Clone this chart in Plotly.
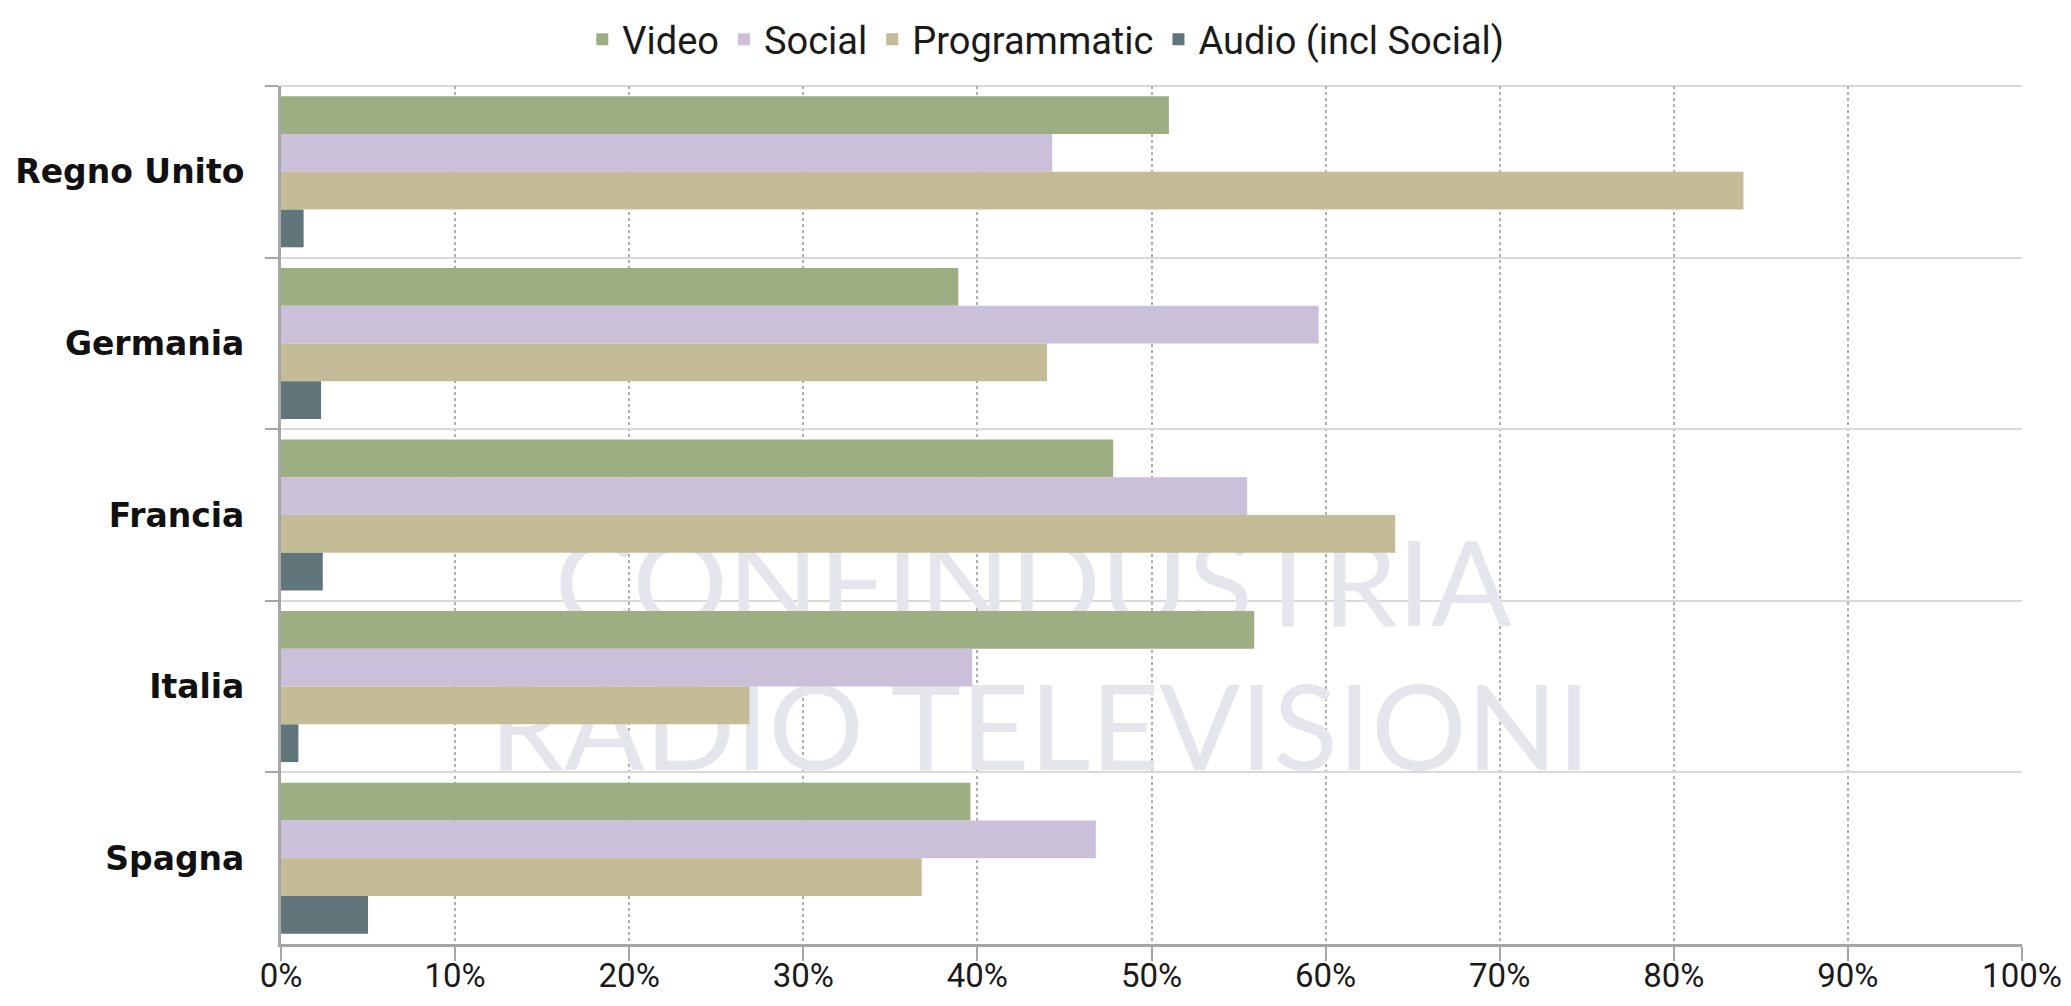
import plotly.graph_objects as go

countries = ["Regno Unito", "Germania", "Francia", "Italia", "Spagna"]
series_names = ["Video", "Social", "Programmatic", "Audio (incl Social)"]
video = [0.510, 0.389, 0.478, 0.559, 0.396]
social = [0.443, 0.596, 0.555, 0.397, 0.468]
programmatic = [0.840, 0.440, 0.640, 0.269, 0.368]
audio = [0.013, 0.023, 0.024, 0.010, 0.050]
x_ticks = [0, 0.1, 0.2, 0.3, 0.4, 0.5, 0.6, 0.7, 0.8, 0.9, 1.0]
watermark_lines = ["CONFINDUSTRIA", "RADIO TELEVISIONI"]

colors = ["#9DAF82", "#CBC0DA", "#C4BC97", "#61767B"]
values = [video, social, programmatic, audio]

fig = go.Figure()

# faint watermark on the base axes (drawn beneath the overlaid bar axes)
fig.add_trace(go.Scatter(
    x=[0.432, 0.436], y=[0.405, 0.238], mode="text",
    text=watermark_lines, textposition="middle center",
    textfont=dict(family="Lato, Roboto, sans-serif", size=119, color="#E4E6EC", weight=400),
    showlegend=False, hoverinfo="skip", xaxis="x", yaxis="y",
))

for name, vals, col in zip(series_names, values, colors):
    fig.add_trace(go.Bar(
        y=countries, x=vals, name=name, orientation="h",
        marker=dict(color=col, line=dict(width=0)),
        xaxis="x2", yaxis="y2",
    ))

axis_grey = "#A6A6A6"
fig.update_layout(
    width=2055, height=990,
    margin=dict(l=273, r=41, t=78, b=54, autoexpand=False),
    paper_bgcolor="white", plot_bgcolor="white",
    barmode="group", bargap=0.12, bargroupgap=0,
    showlegend=True,
    legend=dict(
        orientation="h", xref="container", yref="container",
        x=0.505, xanchor="center", y=1.0, yanchor="top",
        font=dict(family="Roboto, sans-serif", size=38, color="#1a1a1a"),
        traceorder="normal", itemsizing="constant",
    ),
    xaxis=dict(range=[0, 1], visible=False, fixedrange=True, automargin=False),
    yaxis=dict(range=[0, 1], visible=False, fixedrange=True, automargin=False),
    xaxis2=dict(
        overlaying="x", anchor="y2", side="bottom", automargin=False,
        range=[0, 1], tickvals=x_ticks, tickformat=".0%",
        showgrid=True, gridcolor="#B0B0B0", gridwidth=1.5, griddash="dot",
        showline=True, linecolor=axis_grey, linewidth=3,
        ticks="outside", ticklen=14, tickwidth=2, tickcolor=axis_grey,
        ticklabelstandoff=-14, ticklabeloverflow="allow",
        tickfont=dict(family="Roboto, sans-serif", size=33, color="#1a1a1a"),
        zeroline=False,
    ),
    yaxis2=dict(
        overlaying="y", anchor="x2", automargin=False,
        categoryorder="array", categoryarray=countries, autorange="reversed",
        tickson="boundaries", ticks="outside", ticklen=13, tickwidth=2, tickcolor=axis_grey,
        showgrid=True, gridcolor="#D9D9D9", gridwidth=2,
        showline=True, linecolor=axis_grey, linewidth=3,
        tickfont=dict(family="DejaVu Sans, sans-serif", size=33, color="#111111", weight="bold"),
        ticklabelstandoff=27,
    ),
    shapes=[dict(type="line", xref="paper", yref="paper", x0=0, x1=1, y0=1, y1=1,
                 line=dict(color="#D9D9D9", width=2), layer="below")],
)

fig.write_html("out.html")
